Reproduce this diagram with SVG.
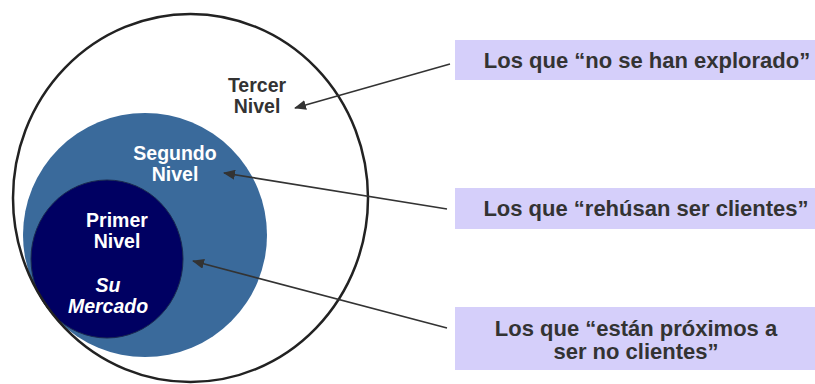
<svg xmlns="http://www.w3.org/2000/svg" width="815" height="384" viewBox="0 0 815 384">
<defs>
<style>
.lbl{font-family:"Liberation Sans",Arial,sans-serif;font-weight:bold;font-size:19.5px;text-anchor:middle}
.dark{fill:#333333}
.white{fill:#ffffff}
.box{fill:#D5CFFA}
.btxt{font-family:"Liberation Sans",Arial,sans-serif;font-weight:bold;font-size:22px;fill:#333333;text-anchor:middle}
.conn{stroke:#333333;stroke-width:1.6;fill:none}
</style>
<marker id="ah" viewBox="0 0 12 10" refX="11" refY="5" markerWidth="12" markerHeight="10" markerUnits="userSpaceOnUse" orient="auto">
<path d="M0,0 L12,5 L0,10 Z" fill="#333333"/>
</marker>
</defs>
<rect width="815" height="384" fill="#ffffff"/>
<g id="tercer-nivel">
<ellipse cx="190.5" cy="198" rx="177.5" ry="184" fill="#ffffff"/>
</g>
<g id="segundo-nivel">
<circle cx="145" cy="235" r="122" fill="#3A6A9B"/>
<text class="lbl white" x="175" y="160">Segundo</text>
<text class="lbl white" x="175" y="181">Nivel</text>
</g>
<g id="primer-nivel">
<ellipse cx="107" cy="259" rx="76" ry="79" fill="#000062" stroke="#1a2a50" stroke-width="1"/>
<text class="lbl white" x="117" y="227">Primer</text>
<text class="lbl white" x="117" y="248">Nivel</text>
<text class="lbl white" x="108" y="292" font-style="italic">Su</text>
<text class="lbl white" x="108" y="313" font-style="italic">Mercado</text>
</g>
<g id="tercer-outline">
<ellipse cx="190.5" cy="198" rx="177.5" ry="184" fill="none" stroke="#222222" stroke-width="2.5"/>
<text class="lbl dark" x="257" y="92">Tercer</text>
<text class="lbl dark" x="257" y="113">Nivel</text>
</g>
<g id="box-no-explorado">
<rect class="box" x="455" y="40" width="360" height="40"/>
<text class="btxt" x="647" y="68">Los que “no se han explorado”</text>
</g>
<g id="box-rehusan">
<rect class="box" x="455" y="188" width="360" height="41"/>
<text class="btxt" x="646" y="216">Los que “rehúsan ser clientes”</text>
</g>
<g id="box-proximos">
<rect class="box" x="455" y="307" width="360" height="63"/>
<text class="btxt" x="636" y="336">Los que “están próximos a</text>
<text class="btxt" x="636" y="359">ser no clientes”</text>
</g>
<g id="connectors">
<line class="conn" x1="450" y1="64" x2="295" y2="108" marker-end="url(#ah)"/>
<line class="conn" x1="447" y1="209" x2="224" y2="173" marker-end="url(#ah)"/>
<line class="conn" x1="447" y1="328" x2="193" y2="261" marker-end="url(#ah)"/>
</g>
</svg>
